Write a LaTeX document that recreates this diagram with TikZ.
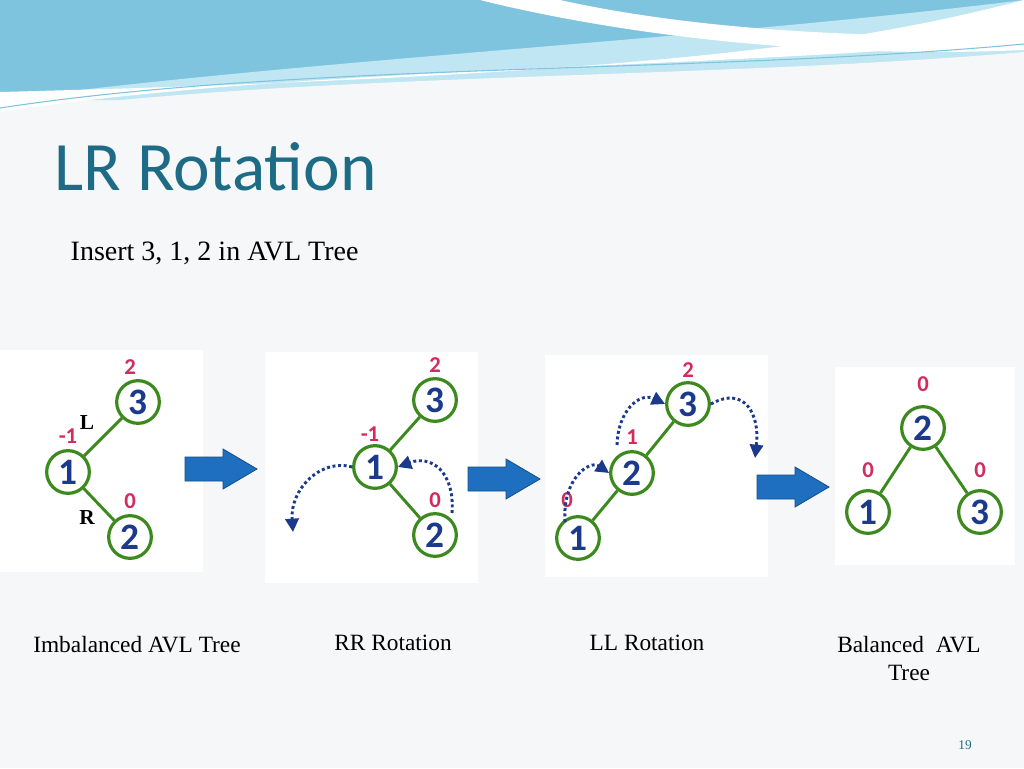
\documentclass[tikz,border=0pt]{standalone}
\usepackage{fontspec}
\setmainfont{Liberation Serif}
\newfontfamily\carlito{Carlito}
\usetikzlibrary{arrows.meta}
\definecolor{treegreen}{HTML}{3C8A1E}
\definecolor{numblue}{HTML}{1B3A8C}
\definecolor{balred}{HTML}{D42A5E}
\definecolor{titleteal}{HTML}{1D6B85}
\definecolor{arrowblue}{HTML}{1F6FC0}
\definecolor{bgpaper}{HTML}{F5F7F9}
\definecolor{wavedark}{HTML}{7FC4DE}
\definecolor{wavelight}{HTML}{BFE6F2}
\begin{document}
\begin{tikzpicture}[x=0.75pt,y=-0.75pt,
    tnode/.style={circle,draw=treegreen,line width=2.4pt,fill=white,minimum size=32pt,inner sep=0pt,
                  font=\carlito\bfseries\fontsize{28}{28}\selectfont,text=numblue},
    edgeline/.style={treegreen,line width=2.2pt},
    bal/.style={font=\carlito\bfseries\fontsize{17}{17}\selectfont,text=balred},
    lr/.style={font=\bfseries\fontsize{16}{16}\selectfont},
    panel/.style={fill=white,draw=none},
    bigarrow/.style={fill=arrowblue,draw=arrowblue!70!black,line width=0.6pt},
    rot/.style={numblue,line width=2.2pt,dotted,-{Triangle[length=10pt,width=10pt]}},
    caption/.style={font=\fontsize{17.5}{21}\selectfont,align=center}]
  \useasboundingbox (0,0) rectangle (1024,768);
  \fill[bgpaper] (0,0) rectangle (1024,768);
  % header waves
  \fill[wavedark] (0,0) rectangle (1024,100);
  \fill[wavelight] (0,100) .. controls (300,60) and (700,40) .. (1024,0) -- (1024,100) -- cycle;
  \fill[white] (0,112) .. controls (300,66) and (700,70) .. (1024,40) -- (1024,0) .. controls (850,45) and (650,75) .. (0,92) -- cycle;
  \fill[white] (480,0) .. controls (600,30) and (800,60) .. (1024,50) -- (1024,35) .. controls (800,40) and (650,20) .. (560,0) -- cycle;
  \fill[bgpaper] (0,114) .. controls (300,72) and (700,80) .. (1024,52) -- (1024,120) -- (0,120) -- cycle;
  \draw[wavedark,line width=0.8pt] (0,108) .. controls (300,62) and (700,74) .. (1024,44);

  \node[anchor=west,text=titleteal,font=\carlito\fontsize{52}{52}\selectfont] (title) at (50,167) {LR Rotation};
  \node[anchor=west,font=\fontsize{21}{21}\selectfont] (sub) at (66,253) {Insert 3, 1, 2 in AVL Tree};

  % panels
  \fill[panel] (0,350) rectangle (203,572);
  \fill[panel] (265,352) rectangle (478,583);
  \fill[panel] (545,355) rectangle (768,577);
  \fill[panel] (835,367) rectangle (1015,565);

  % imbalanced tree
  \node[tnode] (a3) at (138,402) {3};
  \node[tnode] (a1) at (68,472) {1};
  \node[tnode] (a2) at (130,537) {2};
  \draw[edgeline] (a1) -- (a3);
  \draw[edgeline] (a1) -- (a2);
  \node[bal] (ab3) at (130,367) {2};
  \node[bal] (ab1) at (68,436) {-1};
  \node[bal] (ab2) at (130,501) {0};
  \node[lr] (al) at (87,423) {L};
  \node[lr] (ar) at (87,518) {R};

  % RR rotation
  \node[tnode] (b3) at (435,400) {3};
  \node[tnode] (b1) at (375,467) {1};
  \node[tnode] (b2) at (435,535) {2};
  \draw[edgeline] (b1) -- (b3);
  \draw[edgeline] (b1) -- (b2);
  \node[bal] (bb3) at (435,365) {2};
  \node[bal] (bb1) at (370,434) {-1};
  \node[bal] (bb2) at (435,500) {0};
  \draw[rot] (452,513) .. controls (455,470) and (430,455) .. (b1.east);
  \draw[rot] (b1.west) .. controls (320,458) and (290,490) .. (293,532);

  % LL rotation
  \node[tnode] (c3) at (688,404) {3};
  \node[tnode] (c2) at (632,473) {2};
  \node[tnode] (c1) at (578,538) {1};
  \draw[edgeline] (c2) -- (c3);
  \draw[edgeline] (c2) -- (c1);
  \node[bal] (cb3) at (688,370) {2};
  \node[bal] (cb2) at (632,437) {1};
  \node[bal] (cb1) at (567,500) {0};
  \draw[rot] (565,522) .. controls (562,478) and (590,460) .. (c2.west);
  \draw[rot] (617,445) .. controls (618,410) and (640,392) .. (c3.west);
  \draw[rot] (c3.east) .. controls (745,385) and (760,415) .. (755,458);

  % balanced tree
  \node[tnode] (d2) at (923,428) {2};
  \node[tnode] (d1) at (868,512) {1};
  \node[tnode] (d3) at (980,512) {3};
  \draw[edgeline] (d2) -- (d1);
  \draw[edgeline] (d2) -- (d3);
  \node[bal] (db2) at (923,384) {0};
  \node[bal] (db1) at (868,470) {0};
  \node[bal] (db3) at (980,470) {0};

  % block arrows
  \foreach \ax/\ay in {185/469, 468/479, 757/487}
    \filldraw[bigarrow] (\ax,\ay-12) -- ++(38,0) -- ++(0,-8) -- ++(34,20) -- ++(-34,20) -- ++(0,-8) -- ++(-38,0) -- cycle;

  % captions
  \node[caption] (cap1) at (137,645) {Imbalanced AVL Tree};
  \node[caption] (cap2) at (393,643) {RR Rotation};
  \node[caption] (cap3) at (647,643) {LL Rotation};
  \node[caption] (cap4) at (909,659) {Balanced~ AVL\\Tree};
  \node[font=\fontsize{10}{10}\selectfont,text=titleteal] (page) at (965,745) {19};
\end{tikzpicture}
\end{document}
